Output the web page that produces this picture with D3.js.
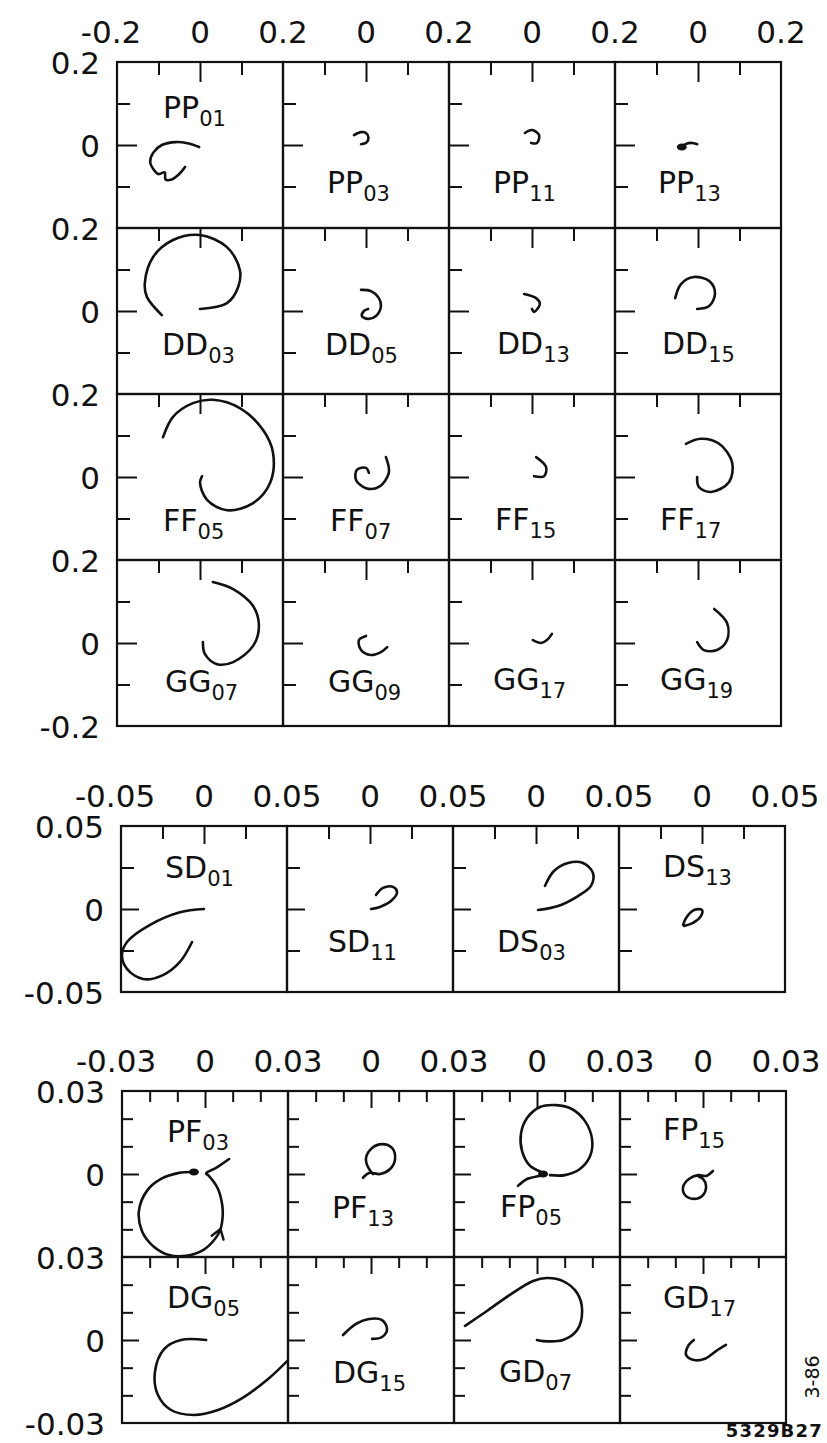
<!DOCTYPE html>
<html>
<head>
<meta charset="utf-8">
<script src="https://cdn.jsdelivr.net/npm/d3@7"></script>
<style>
  body { margin: 0; background: #fff; }
  text { font-family: "DejaVu Sans", sans-serif; fill: #111; }
</style>
</head>
<body>
<svg id="chart" width="827" height="1443"></svg>
<script>
// ---- partial-wave names (letters, subscript), row-major per block ----
const namesA = [["PP","01"],["PP","03"],["PP","11"],["PP","13"],
                ["DD","03"],["DD","05"],["DD","13"],["DD","15"],
                ["FF","05"],["FF","07"],["FF","15"],["FF","17"],
                ["GG","07"],["GG","09"],["GG","17"],["GG","19"]];
const namesB = [["SD","01"],["SD","11"],["DS","03"],["DS","13"]];
const namesC = [["PF","03"],["PF","13"],["FP","05"],["FP","15"],
                ["DG","05"],["DG","15"],["GD","07"],["GD","17"]];

// ---- axis tick labels ----
const topLabelsA  = ["-0.2","0","0.2","0","0.2","0","0.2","0","0.2"];
const leftLabelsA = ["0.2","0","0.2","0","0.2","0","0.2","0","-0.2"];
const topLabelsB  = ["-0.05","0","0.05","0","0.05","0","0.05","0","0.05"];
const leftLabelsB = ["0.05","0","-0.05"];
const topLabelsC  = ["-0.03","0","0.03","0","0.03","0","0.03","0","0.03"];
const leftLabelsC = ["0.03","0","0.03","0","-0.03"];

// ---- Argand trajectories: [Re, Im] ----
const PP01 = [[-0.002,-0.005],[-0.03,0.004],[-0.058,0.007],[-0.092,0],[-0.113,-0.019],[-0.12,-0.041],[-0.111,-0.06],[-0.1,-0.07],[-0.085,-0.066],[-0.083,-0.083],[-0.068,-0.083],[-0.05,-0.07],[-0.036,-0.053]];
const PP03 = [[-0.029,0.024],[-0.012,0.031],[0,0.029],[0.006,0.018],[0.001,0.006],[-0.012,0.002]];
const PP11 = [[-0.017,0.029],[0,0.036],[0.017,0.024],[0.012,0.005],[-0.002,0.005]];
const PP13 = [[-0.039,-0.005],[-0.03,0.002],[-0.015,0.005],[-0.002,0.002]];
const DD03 = [[-0.092,-0.01],[-0.128,0.034],[-0.133,0.067],[-0.113,0.13],[-0.065,0.171],[0,0.183],[0.065,0.154],[0.096,0.099],[0.092,0.058],[0.065,0.019],[0,0.005]];
const DD05 = [[-0.012,0.051],[0.012,0.048],[0.031,0.031],[0.036,0.012],[0.024,-0.012],[0.005,-0.019],[-0.01,-0.012],[-0.005,0],[0.005,0.005]];
const DD13 = [[-0.019,0.041],[0.01,0.031],[0.019,0.017],[0.005,-0.002],[0,0.005]];
const DD15 = [[-0.055,0.031],[-0.041,0.065],[-0.01,0.082],[0.027,0.072],[0.041,0.043],[0.027,0.012],[-0.002,0.005]];
const FF05 = [[-0.089,0.096],[-0.065,0.145],[-0.017,0.178],[0.031,0.186],[0.096,0.166],[0.152,0.113],[0.176,0.058],[0.169,-0.014],[0.128,-0.063],[0.065,-0.08],[0.017,-0.055],[0,-0.014],[0.005,0.002]];
const FF07 = [[0.048,0.048],[0.055,0.01],[0.031,-0.024],[0,-0.027],[-0.024,-0.007],[-0.022,0.017],[0,0.022],[0.007,0.01]];
const FF15 = [[0.01,0.048],[0.034,0.024],[0.029,0.002],[0.005,0.002]];
const FF17 = [[-0.029,0.08],[0.007,0.092],[0.051,0.08],[0.082,0.036],[0.075,-0.012],[0.031,-0.036],[0.002,-0.024],[-0.002,0]];
const GG07 = [[0.031,0.147],[0.08,0.13],[0.128,0.089],[0.142,0.041],[0.128,-0.007],[0.08,-0.046],[0.041,-0.051],[0.012,-0.027],[0.007,0.002]];
const GG09 = [[0,0.017],[-0.017,0.007],[-0.012,-0.017],[0.012,-0.029],[0.036,-0.022],[0.051,-0.01]];
const GG17 = [[0.002,0.007],[0.022,0],[0.036,0.007],[0.048,0.022]];
const GG19 = [[0.039,0.082],[0.07,0.048],[0.07,0.007],[0.046,-0.017],[0.014,-0.017],[-0.002,0.002]];

const SD01 = [[0,0],[-0.0145,-0.002],[-0.0325,-0.0096],[-0.0464,-0.0199],[-0.0494,-0.0277],[-0.0464,-0.0361],[-0.0367,-0.0422],[-0.0247,-0.0398],[-0.0145,-0.0319],[-0.0072,-0.0199]];
const SD11 = [[0.0006,0],[0.006,0.0012],[0.0133,0.0054],[0.0163,0.0102],[0.0139,0.0133],[0.0078,0.0127],[0.0036,0.0084]];
const DS03 = [[0.0012,-0.0006],[0.0133,0.0018],[0.0253,0.0078],[0.0331,0.0139],[0.0343,0.0217],[0.0283,0.0277],[0.0193,0.0277],[0.0108,0.0229],[0.0054,0.0139]];
const DS13 = [[-0.0114,-0.0096],[-0.0096,-0.0054],[-0.0048,-0.0006],[0,-0.0006],[-0.0006,-0.0042],[-0.0054,-0.0084],[-0.0108,-0.0102]];

const PF03 = [[-0.004,0.0007],[-0.0094,0.0004],[-0.0159,-0.0018],[-0.021,-0.0061],[-0.0239,-0.0134],[-0.0228,-0.0206],[-0.0188,-0.026],[-0.013,-0.0293],[-0.0069,-0.0296],[-0.0007,-0.0275],[0.0036,-0.0235],[0.0056,-0.0199],[0.0064,-0.015],[0.0062,-0.011],[0.0047,-0.0054],[0.0014,-0.0007],[0.0004,0.0002],[0.004,0.0022],[0.0087,0.0054]];
const PF13 = [[-0.0029,-0.0014],[-0.0007,0.0004],[0.0033,0],[0.0069,0.0018],[0.0087,0.0054],[0.0076,0.0094],[0.004,0.0108],[0.0004,0.0094],[-0.0018,0.0058],[-0.0011,0.0025],[0.0007,0]];
const FP05 = [[-0.0069,-0.0043],[-0.0036,-0.0018],[0.0022,0],[-0.0025,0.0029],[-0.0054,0.0083],[-0.0058,0.0145],[-0.0036,0.0202],[0.0011,0.0242],[0.0069,0.0249],[0.0126,0.0235],[0.0173,0.0192],[0.0199,0.0126],[0.0192,0.0065],[0.0155,0.0018],[0.0101,-0.0004],[0.0047,-0.0004]];
const FP15 = [[0.0036,0.0011],[0.0011,-0.0007],[-0.0018,-0.0004],[-0.0051,-0.0018],[-0.0072,-0.0047],[-0.0065,-0.0076],[-0.0033,-0.009],[0,-0.0076],[0.0011,-0.0043],[0,-0.0018],[-0.0018,-0.0007]];
const DG05 = [[0.0004,0],[-0.0087,0],[-0.0148,-0.0033],[-0.0181,-0.0116],[-0.017,-0.0199],[-0.0123,-0.0253],[-0.004,-0.0271],[0.0047,-0.0253],[0.013,-0.0213],[0.0228,-0.0141],[0.031,-0.0063]];
const DG15 = [[-0.0101,0.0018],[-0.0054,0.0058],[-0.0007,0.0076],[0.004,0.0072],[0.0058,0.004],[0.004,0.0011],[0.0004,0.0004]];
const GD07 = [[-0.026,0.0051],[-0.0181,0.0105],[-0.0098,0.0163],[-0.0014,0.0213],[0.0036,0.0224],[0.0094,0.0213],[0.0145,0.017],[0.0163,0.0108],[0.0145,0.0036],[0.0094,0],[0.0022,-0.0004],[0,0]];
const GD17 = [[-0.0033,0],[-0.0054,-0.0022],[-0.0061,-0.0054],[-0.0033,-0.0072],[0.0004,-0.0069],[0.0047,-0.004],[0.0083,-0.0018]];

const curvesA = [PP01,PP03,PP11,PP13,DD03,DD05,DD13,DD15,FF05,FF07,FF15,FF17,GG07,GG09,GG17,GG19];
const curvesB = [SD01,SD11,DS03,DS13];
const curvesC = [PF03,PF13,FP05,FP15,DG05,DG15,GD07,GD17];

// marked points on a trajectory: [wave, point index]
const thresholdDots = [["PP13",0],["PF03",0],["FP05",2]];
// direction arrow: [wave, point index]
const arrows = [["PF03",11]];

// ---- layout of the three blocks ----
const blocks = [
  { names: namesA, curves: curvesA, left: 117, top: 62,   cols: 4, rows: 4, cell: 166, R: 0.2,
    minor: [-0.1, 0.1], minorLen: 13, zeroLen: 20, topLabels: topLabelsA, leftLabels: leftLabelsA,
    labelAt: [[46,56],[44,131],[44,131],[43,131],[45,127],[42,127],[48,126],[47,126],
              [46,137],[47,137],[46,136],[45,136],[48,132],[45,132],[44,130],[45,130]] },
  { names: namesB, curves: curvesB, left: 121, top: 826,  cols: 4, rows: 1, cell: 166, R: 0.05,
    minor: [-0.025, 0.025], minorLen: 13, zeroLen: 18, topLabels: topLabelsB, leftLabels: leftLabelsB,
    labelAt: [[44,52],[41,126],[44,126],[44,51]] },
  { names: namesC, curves: curvesC, left: 122, top: 1091, cols: 4, rows: 2, cell: 166, R: 0.03,
    minor: [-0.02,-0.01,0.01,0.02], minorLen: 11, zeroLen: 17, topLabels: topLabelsC, leftLabels: leftLabelsC,
    labelAt: [[45,51],[44,127],[46,126],[43,49],[45,51],[45,126],[45,125],[43,51]] }
];

const svg = d3.select("#chart");
const defs = svg.append("defs");
const line = d3.line().curve(d3.curveCatmullRom.alpha(0.5));

blocks.forEach((b, bi) => {
  const g = svg.append("g");
  const colPos = d3.scaleLinear().domain([0, b.cols]).range([b.left, b.left + b.cols * b.cell]);
  const rowPos = d3.scaleLinear().domain([0, b.rows]).range([b.top, b.top + b.rows * b.cell]);

  // top tick labels at every half panel
  b.topLabels.forEach((t, i) => {
    g.append("text")
      .attr("x", colPos(i / 2))
      .attr("dx", t.startsWith("-") ? -6 : 0)
      .attr("y", b.top - 19)
      .attr("text-anchor", "middle")
      .attr("font-size", 31)
      .text(t);
  });
  // left tick labels
  b.leftLabels.forEach((t, j) => {
    g.append("text")
      .attr("x", b.left - 17)
      .attr("y", rowPos(j / 2) + 12)
      .attr("text-anchor", "end")
      .attr("font-size", 31)
      .text(t);
  });

  b.names.forEach((nm, k) => {
    const c = k % b.cols, r = Math.floor(k / b.cols);
    const x0 = colPos(c), y0 = rowPos(r);
    const x = d3.scaleLinear().domain([-b.R, b.R]).range([x0, x0 + b.cell]);
    const y = d3.scaleLinear().domain([-b.R, b.R]).range([y0 + b.cell, y0]);
    const p = g.append("g");
    const id = "clip" + bi + "_" + k;
    defs.append("clipPath").attr("id", id)
      .append("rect").attr("x", x0).attr("y", y0).attr("width", b.cell).attr("height", b.cell);

    // panel frame
    p.append("rect").attr("x", x0).attr("y", y0).attr("width", b.cell).attr("height", b.cell)
      .attr("fill", "none").attr("stroke", "#111").attr("stroke-width", 2.2);

    // ticks hanging from the top edge and the left edge
    const drawTicks = (vals, len) => {
      p.append("g").attr("transform", `translate(0,${y0})`)
        .call(d3.axisBottom(x).tickValues(vals).tickSize(len).tickFormat(""))
        .call(s => s.select(".domain").remove())
        .selectAll("line").attr("stroke", "#111").attr("stroke-width", 2);
      p.append("g").attr("transform", `translate(${x0},0)`)
        .call(d3.axisRight(y).tickValues(vals).tickSize(len).tickFormat(""))
        .call(s => s.select(".domain").remove())
        .selectAll("line").attr("stroke", "#111").attr("stroke-width", 2);
    };
    drawTicks(b.minor, b.minorLen);
    drawTicks([0], b.zeroLen);

    // trajectory
    const pts = b.curves[k];
    const waveKey = nm[0] + nm[1];
    p.append("path")
      .attr("clip-path", `url(#${id})`)
      .attr("d", line(pts.map(d => [x(d[0]), y(d[1])])))
      .attr("fill", "none").attr("stroke", "#111").attr("stroke-width", 2.6)
      .attr("stroke-linecap", "round").attr("stroke-linejoin", "round");

    thresholdDots.filter(d => d[0] === waveKey).forEach(d => {
      const q = pts[d[1]];
      p.append("ellipse").attr("cx", x(q[0])).attr("cy", y(q[1]))
        .attr("rx", 5).attr("ry", 3.5).attr("fill", "#111");
    });

    arrows.filter(d => d[0] === waveKey).forEach(d => {
      const q = pts[d[1]], a = pts[d[1] - 1], n = pts[d[1] + 1];
      const tx = x(q[0]), ty = y(q[1]);
      const ang = Math.atan2(y(n[1]) - y(a[1]), x(n[0]) - x(a[0]));
      const L = 11, spread = 0.6;
      const arm = s => [tx - L * Math.cos(ang + s), ty - L * Math.sin(ang + s)];
      p.append("path")
        .attr("d", d3.line()([arm(spread), [tx, ty], arm(-spread)]))
        .attr("fill", "none").attr("stroke", "#111").attr("stroke-width", 2.4)
        .attr("stroke-linecap", "round").attr("stroke-linejoin", "round");
    });

    // wave label with subscript
    const [lx, ly] = b.labelAt[k];
    const t = p.append("text").attr("x", x0 + lx).attr("y", y0 + ly).attr("font-size", 30);
    t.append("tspan").text(nm[0]);
    t.append("tspan").attr("font-size", 21).attr("dy", 8).text(nm[1]);
  });
});

// figure codes
svg.append("text").attr("transform", "translate(819,1377) rotate(-90)")
  .attr("text-anchor", "middle").attr("font-size", 19).text("3-86");
svg.append("text").attr("x", 823).attr("y", 1437).attr("text-anchor", "end")
  .attr("font-size", 18).attr("font-weight", "bold").attr("letter-spacing", 1.2).text("5329B27");
</script>
</body>
</html>
